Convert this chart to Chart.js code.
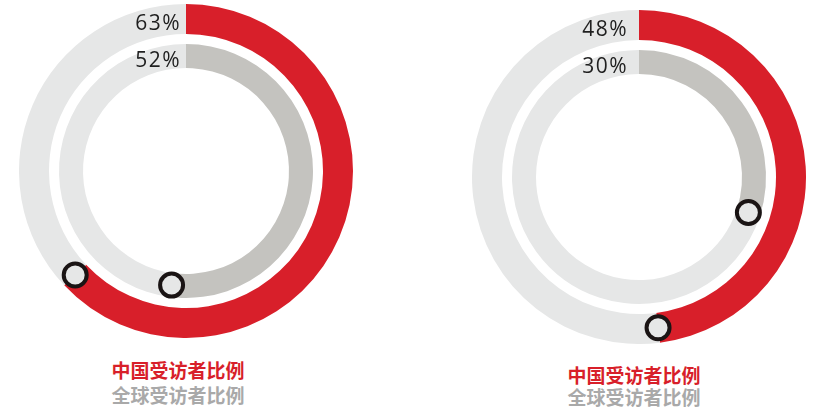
<!DOCTYPE html>
<html>
<head>
<meta charset="utf-8">
<script src="https://cdn.jsdelivr.net/npm/chart.js@4/dist/chart.umd.min.js"></script>
<style>
  body { margin: 0; background: #fff; width: 818px; height: 407px; position: relative; overflow: hidden; }
  canvas { position: absolute; }
  .legend { position: absolute; width: 240px; text-align: center; font-family: "Noto Sans CJK SC", sans-serif; font-weight: bold; font-size: 19px; line-height: 22px; }
  .cn { color: #d81f2a; }
  .gl { color: #a9a9a9; }
</style>
</head>
<body>
<canvas id="ringA" width="334" height="334" style="left:19px;top:4px"></canvas>
<canvas id="ringB" width="334" height="334" style="left:472px;top:10px"></canvas>
<div class="legend" style="left:58px;top:357px;line-height:25px"><div class="cn" id="lgA1"></div><div class="gl" id="lgA2"></div></div>
<div class="legend" style="left:514px;top:364px"><div class="cn" id="lgB1"></div><div class="gl" id="lgB2"></div></div>
<script>
// share of respondents, per chart (left, right)
const chinaShare = [63, 48];
const globalShare = [52, 30];
const seriesNames = ['中国受访者比例', '全球受访者比例'];

const RED = '#d81f2a';
const GREY = '#c4c3bf';
const TRACK = '#e6e7e7';

// labels at the start of each ring, marker circle at the end of each arc
const ringDecor = {
    id: 'ringDecor',
    afterDatasetsDraw(chart, args, opts) {
        const ctx = chart.ctx;
        [0, 2].forEach(i => {
            const arc = chart.getDatasetMeta(i).data[0];
            const mid = (arc.innerRadius + arc.outerRadius) / 2;
            // marker
            const a = arc.endAngle;
            ctx.save();
            ctx.beginPath();
            ctx.arc(arc.x + mid * Math.cos(a), arc.y + mid * Math.sin(a), 11.5, 0, Math.PI * 2);
            ctx.fillStyle = TRACK;
            ctx.fill();
            ctx.lineWidth = 4;
            ctx.strokeStyle = '#1a1414';
            ctx.stroke();
            // value label
            ctx.font = '21px "Open Sans", sans-serif';
            ctx.letterSpacing = '1.5px';
            ctx.fillStyle = '#1f1f1f';
            ctx.textAlign = 'right';
            ctx.textBaseline = 'middle';
            ctx.fillText(chart.data.datasets[i].data[0] + '%', arc.x - opts.gap, arc.y - mid + 5);
            ctx.restore();
        });
    }
};

function makeRing(id, k, gap) {
    new Chart(document.getElementById(id), {
        type: 'doughnut',
        data: {
            datasets: [
                { data: [chinaShare[k], 100 - chinaShare[k]], backgroundColor: [RED, TRACK], weight: 30 },
                { data: [1], backgroundColor: ['rgba(0,0,0,0)'], weight: 10 },
                { data: [globalShare[k], 100 - globalShare[k]], backgroundColor: [GREY, TRACK], weight: 24 }
            ]
        },
        options: {
            responsive: false,
            animation: false,
            radius: 167,
            cutout: 103,
            borderWidth: 0,
            events: [],
            plugins: { legend: { display: false }, tooltip: { enabled: false }, ringDecor: { gap: gap } }
        },
        plugins: [ringDecor]
    });
}

makeRing('ringA', 0, 5);
makeRing('ringB', 1, 11);

['A', 'B'].forEach(s => {
    document.getElementById('lg' + s + '1').textContent = seriesNames[0];
    document.getElementById('lg' + s + '2').textContent = seriesNames[1];
});
</script>
</body>
</html>
